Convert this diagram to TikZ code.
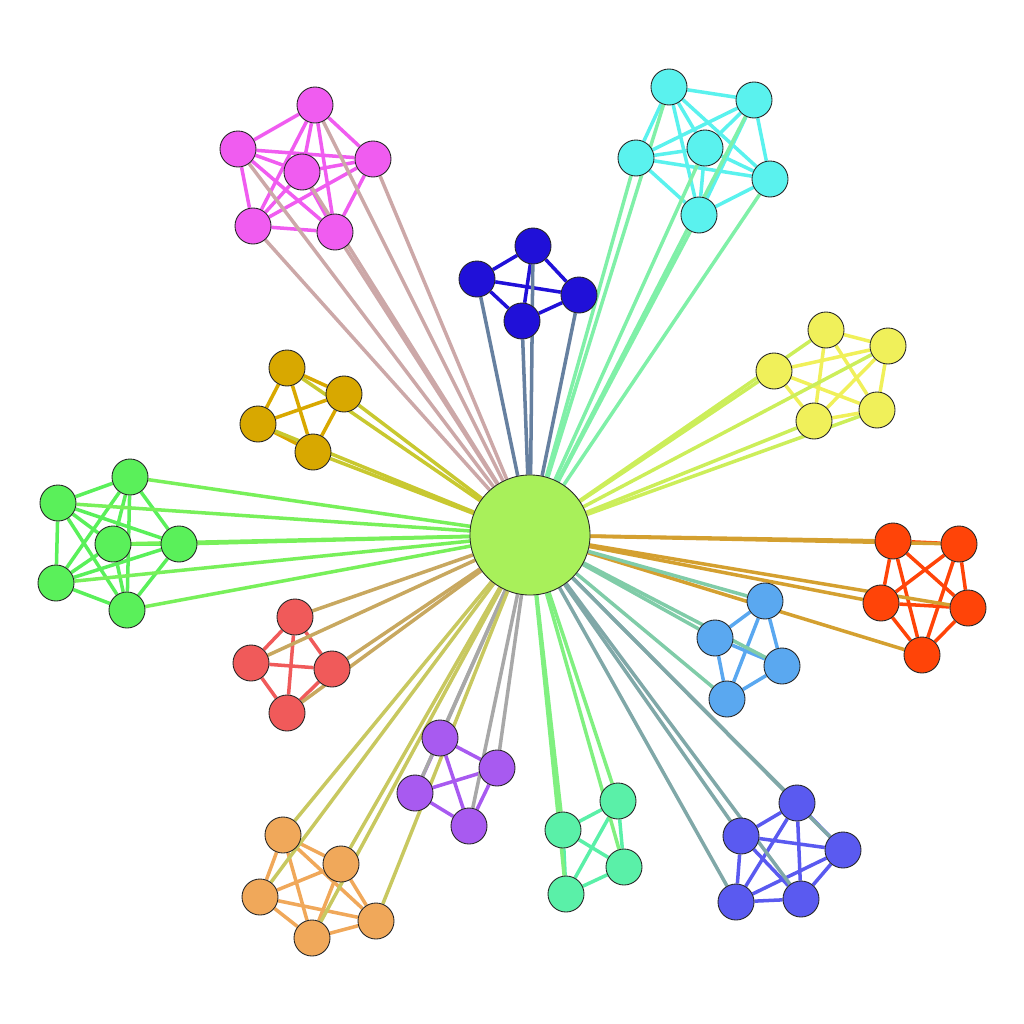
\documentclass[tikz,border=0pt]{standalone}
\usetikzlibrary{backgrounds}
\definecolor{cM}{HTML}{F05CF0}\definecolor{eM}{HTML}{CCA8A8}
\definecolor{cC}{HTML}{5AF2EE}\definecolor{eC}{HTML}{80F0A8}
\definecolor{cB}{HTML}{2010D8}\definecolor{eB}{HTML}{6680A0}
\definecolor{cY}{HTML}{F0F05A}\definecolor{eY}{HTML}{CCEE5A}
\definecolor{cG}{HTML}{D8A800}\definecolor{eG}{HTML}{C8C830}
\definecolor{cL}{HTML}{5AF05A}\definecolor{eL}{HTML}{78F05A}
\definecolor{cO}{HTML}{FF4408}\definecolor{eO}{HTML}{D4A030}
\definecolor{cA}{HTML}{5AA8F0}\definecolor{eA}{HTML}{80CCA8}
\definecolor{cR}{HTML}{F05A5A}\definecolor{eR}{HTML}{C8A860}
\definecolor{cP}{HTML}{A85AF0}\definecolor{eP}{HTML}{A8A8A8}
\definecolor{cT}{HTML}{5AF0A8}\definecolor{eT}{HTML}{80F080}
\definecolor{cI}{HTML}{5A5AF0}\definecolor{eI}{HTML}{80A8A8}
\definecolor{cS}{HTML}{F0A85A}\definecolor{eS}{HTML}{C8C860}
\definecolor{cZ}{HTML}{A8F05A}
\tikzset{
  vert/.style={circle,draw=black!85,line width=0.25pt,minimum size=0.36cm,inner sep=0pt},
  hub/.style={circle,draw=black!85,line width=0.25pt,minimum size=1.2cm,inner sep=0pt,fill=cZ},
  link/.style={line width=1pt},
}
\begin{document}
\begin{tikzpicture}[x=0.01cm,y=-0.01cm]
\useasboundingbox (0,0) rectangle (1024,1024);
\node[hub] (hub) at (530,535) {};
% clusters: name/x/y
\foreach \n/\x/\y in {m1/315/105,m2/238/149,m3/302/172,m4/373/159,m5/253/226,m6/335/232}
  \node[vert,fill=cM] (\n) at (\x,\y) {};
\foreach \n/\x/\y in {c1/669/87,c2/754/100,c3/636/158,c4/705/148,c5/770/179,c6/699/215}
  \node[vert,fill=cC] (\n) at (\x,\y) {};
\foreach \n/\x/\y in {b1/533/246,b2/477/279,b3/579/295,b4/522/321}
  \node[vert,fill=cB] (\n) at (\x,\y) {};
\foreach \n/\x/\y in {y1/826/330,y2/888/346,y3/774/371,y4/877/410,y5/814/421}
  \node[vert,fill=cY] (\n) at (\x,\y) {};
\foreach \n/\x/\y in {g1/287/368,g2/344/394,g3/258/424,g4/313/452}
  \node[vert,fill=cG] (\n) at (\x,\y) {};
\foreach \n/\x/\y in {l1/130/477,l2/58/503,l3/113/544,l4/179/544,l5/56/583,l6/127/610}
  \node[vert,fill=cL] (\n) at (\x,\y) {};
\foreach \n/\x/\y in {o1/893/541,o2/959/544,o3/881/603,o4/968/608,o5/922/655}
  \node[vert,fill=cO] (\n) at (\x,\y) {};
\foreach \n/\x/\y in {a1/765/601,a2/715/638,a3/782/666,a4/727/699}
  \node[vert,fill=cA] (\n) at (\x,\y) {};
\foreach \n/\x/\y in {r1/295/617,r2/251/663,r3/332/669,r4/287/713}
  \node[vert,fill=cR] (\n) at (\x,\y) {};
\foreach \n/\x/\y in {p1/440/738,p2/497/768,p3/415/793,p4/469/826}
  \node[vert,fill=cP] (\n) at (\x,\y) {};
\foreach \n/\x/\y in {t1/618/801,t2/563/830,t3/624/867,t4/566/894}
  \node[vert,fill=cT] (\n) at (\x,\y) {};
\foreach \n/\x/\y in {i1/797/803,i2/741/836,i3/843/850,i4/736/902,i5/801/899}
  \node[vert,fill=cI] (\n) at (\x,\y) {};
\foreach \n/\x/\y in {s1/283/835,s2/341/864,s3/260/897,s4/376/921,s5/312/938}
  \node[vert,fill=cS] (\n) at (\x,\y) {};
\begin{scope}[on background layer]
% intra-cluster edges
\foreach \a/\b in {m1/m2,m1/m3,m1/m4,m1/m5,m1/m6,m2/m3,m2/m4,m2/m5,m2/m6,m3/m4,m3/m5,m3/m6,m4/m5,m4/m6,m5/m6}
  \draw[link,cM] (\a) -- (\b);
\foreach \a/\b in {c1/c2,c1/c3,c1/c4,c1/c5,c1/c6,c2/c3,c2/c4,c2/c5,c2/c6,c3/c4,c3/c5,c3/c6,c4/c5,c4/c6,c5/c6}
  \draw[link,cC] (\a) -- (\b);
\foreach \a/\b in {b1/b2,b1/b3,b1/b4,b2/b3,b2/b4,b3/b4}
  \draw[link,cB] (\a) -- (\b);
\foreach \a/\b in {y1/y2,y1/y4,y1/y5,y2/y3,y2/y4,y2/y5,y3/y4,y3/y5,y4/y5}
  \draw[link,cY] (\a) -- (\b);
\foreach \a/\b in {g1/g2,g1/g3,g1/g4,g2/g3,g2/g4,g3/g4}
  \draw[link,cG] (\a) -- (\b);
\foreach \a/\b in {l1/l2,l1/l3,l1/l4,l1/l5,l1/l6,l2/l3,l2/l4,l2/l5,l2/l6,l3/l4,l3/l5,l3/l6,l4/l5,l4/l6,l5/l6}
  \draw[link,cL] (\a) -- (\b);
\foreach \a/\b in {o1/o2,o1/o3,o1/o4,o1/o5,o2/o3,o2/o4,o2/o5,o3/o4,o3/o5,o4/o5}
  \draw[link,cO] (\a) -- (\b);
\foreach \a/\b in {a1/a2,a1/a3,a1/a4,a2/a3,a2/a4,a3/a4}
  \draw[link,cA] (\a) -- (\b);
\foreach \a/\b in {r1/r2,r1/r3,r1/r4,r2/r3,r2/r4,r3/r4}
  \draw[link,cR] (\a) -- (\b);
\foreach \a/\b in {p1/p2,p1/p3,p1/p4,p2/p3,p2/p4,p3/p4}
  \draw[link,cP] (\a) -- (\b);
\foreach \a/\b in {t1/t2,t1/t3,t1/t4,t2/t3,t2/t4,t3/t4}
  \draw[link,cT] (\a) -- (\b);
\foreach \a/\b in {i1/i2,i1/i3,i1/i4,i1/i5,i2/i3,i2/i4,i2/i5,i3/i4,i3/i5,i4/i5}
  \draw[link,cI] (\a) -- (\b);
\foreach \a/\b in {s1/s2,s1/s3,s1/s4,s1/s5,s2/s3,s2/s4,s2/s5,s3/s4,s3/s5,s4/s5}
  \draw[link,cS] (\a) -- (\b);
% connectors to hub
\foreach \n in {m1,m2,m3,m4,m5,m6} \draw[link,eM] (\n) -- (hub);
\foreach \n in {c1,c2,c3,c4,c5,c6} \draw[link,eC] (\n) -- (hub);
\foreach \n in {b1,b2,b3,b4} \draw[link,eB] (\n) -- (hub);
\foreach \n in {y1,y2,y3,y4,y5} \draw[link,eY] (\n) -- (hub);
\foreach \n in {g1,g2,g3,g4} \draw[link,eG] (\n) -- (hub);
\foreach \n in {l1,l2,l3,l4,l5,l6} \draw[link,eL] (\n) -- (hub);
\foreach \n in {o1,o2,o3,o4,o5} \draw[link,eO] (\n) -- (hub);
\foreach \n in {a1,a2,a3,a4} \draw[link,eA] (\n) -- (hub);
\foreach \n in {r1,r2,r3,r4} \draw[link,eR] (\n) -- (hub);
\foreach \n in {p1,p2,p3,p4} \draw[link,eP] (\n) -- (hub);
\foreach \n in {t1,t2,t3,t4} \draw[link,eT] (\n) -- (hub);
\foreach \n in {i1,i2,i3,i4,i5} \draw[link,eI] (\n) -- (hub);
\foreach \n in {s1,s2,s3,s4,s5} \draw[link,eS] (\n) -- (hub);
\end{scope}
\end{tikzpicture}
\end{document}
